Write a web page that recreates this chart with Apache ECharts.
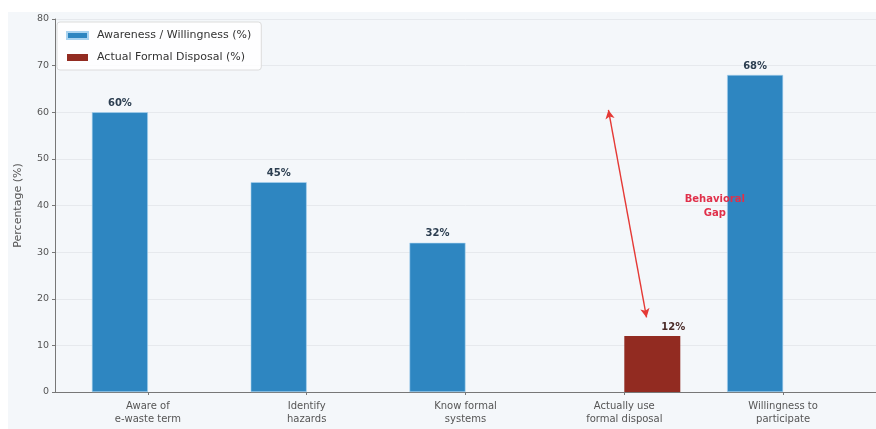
<!DOCTYPE html>
<html>
<head>
<meta charset="utf-8">
<script src="https://cdn.jsdelivr.net/npm/echarts@6/dist/echarts.min.js"></script>
<style>html,body{margin:0;padding:0;background:#fff;}#c{width:876px;height:429px;}</style>
</head>
<body>
<div id="c"></div>
<script>
const categories = ['Aware of\ne-waste term', 'Identify\nhazards', 'Know formal\nsystems', 'Actually use\nformal disposal', 'Willingness to\nparticipate'];
const awareness = [60, 45, 32, null, 68];
const actualDisposal = [null, null, null, 12, null];
const yTicks = [0, 10, 20, 30, 40, 50, 60, 70, 80];
const gapArrow = [[2.9, 60.5], [3.14, 16]];
const gapLabelPos = [3.57, 39.7];

const toPairs = arr => arr.map((v, i) => v == null ? null : [i, v]).filter(p => p);

const chart = echarts.init(document.getElementById('c'), null, {renderer: 'canvas'});
const font = 'DejaVu Sans';
chart.setOption({
  backgroundColor: '#f4f7fa',
  animation: false,
  textStyle: {fontFamily: font},
  graphic: [
    {type: 'rect', left: 0, top: 0, shape: {width: 876, height: 12}, style: {fill: '#ffffff'}, z: -10},
    {type: 'rect', left: 0, top: 0, shape: {width: 8, height: 429}, style: {fill: '#ffffff'}, z: -10}
  ],
  grid: {left: 55, top: 19, width: 823, height: 373, containLabel: false},
  legend: {
    orient: 'vertical', left: 57, top: 22,
    icon: 'rect',
    itemWidth: 21, itemHeight: 7, itemGap: 11,
    padding: [8, 10, 7, 9],
    backgroundColor: 'rgba(255,255,255,0.85)', borderColor: '#dcdcdc', borderWidth: 1, borderRadius: 3,
    textStyle: {fontSize: 11, color: '#333', fontFamily: font, padding: [0, 0, 0, 4]},
    data: ['Awareness / Willingness (%)', 'Actual Formal Disposal (%)']
  },
  xAxis: {
    type: 'value', min: -0.585, max: 4.585,
    splitLine: {show: false},
    axisLine: {show: true, onZero: false, lineStyle: {color: '#777', width: 1}},
    axisTick: {show: true, length: 3, lineStyle: {color: '#777'}, customValues: [0, 1, 2, 3, 4]},
    axisLabel: {
      customValues: [0, 1, 2, 3, 4],
      formatter: v => categories[Math.round(v)],
      fontSize: 10, color: '#555', lineHeight: 13, margin: 8, fontFamily: font
    }
  },
  yAxis: {
    type: 'value', min: 0, max: 80, interval: 10,
    name: 'Percentage (%)', nameLocation: 'middle', nameGap: 31,
    nameTextStyle: {fontSize: 11, color: '#555', fontFamily: font},
    axisLine: {show: true, onZero: false, lineStyle: {color: '#777', width: 1}},
    axisTick: {show: true, length: 3, lineStyle: {color: '#777'}},
    axisLabel: {fontSize: 9.5, color: '#555', margin: 6, fontFamily: font,
      formatter: v => yTicks.includes(v) ? String(v) : ''},
    splitLine: {show: true, lineStyle: {color: '#e6e9ed', width: 1}}
  },
  series: [
    {
      name: 'Awareness / Willingness (%)', type: 'bar',
      data: toPairs(awareness),
      barWidth: 56, barGap: '0%',
      itemStyle: {color: '#2e86c1', borderColor: '#a9d3f0', borderWidth: 0.6},
      label: {show: true, position: 'top', distance: 4, formatter: p => p.value[1] + '%',
        fontSize: 10, fontWeight: 'bold', color: '#2c3e50', fontFamily: font}
    },
    {
      name: 'Actual Formal Disposal (%)', type: 'bar',
      data: toPairs(actualDisposal),
      barWidth: 56, barGap: '0%',
      itemStyle: {color: '#922b21'},
      label: {show: true, position: 'top', distance: 4, offset: [21, 0], formatter: p => p.value[1] + '%',
        fontSize: 10, fontWeight: 'bold', color: '#4a2b28', fontFamily: font}
    },
    {
      name: 'gap', type: 'line', data: [], silent: true,
      markLine: {
        silent: true, symbol: ['arrow', 'arrow'], symbolSize: [7, 9],
        lineStyle: {color: '#e53935', width: 1.4, type: 'solid'},
        label: {show: false},
        data: [[{coord: gapArrow[0]}, {coord: gapArrow[1]}]]
      },
      markPoint: {
        silent: true, symbol: 'circle', symbolSize: 0,
        label: {show: true, formatter: 'Behavioral\nGap', fontSize: 10, fontWeight: 'bold',
          color: '#e0304a', lineHeight: 14, align: 'center', fontFamily: font},
        data: [{coord: gapLabelPos}]
      }
    }
  ]
});
</script>
</body>
</html>
